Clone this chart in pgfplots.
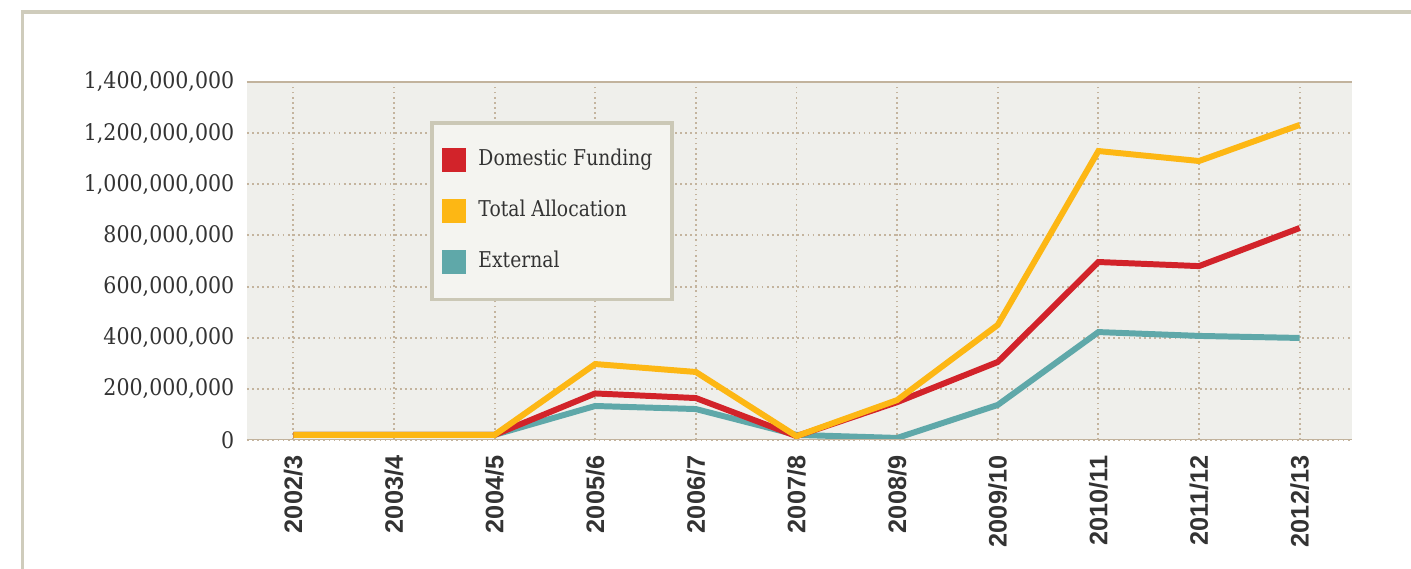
\documentclass[border=0pt]{standalone}
\usepackage{fontspec}
\setmainfont{DejaVu Serif}
\newfontfamily\tickfont{DejaVu Serif}[FakeStretch=0.9]
\newfontfamily\legfont{DejaVu Serif}[FakeStretch=0.86]
\newfontfamily\xsans{Liberation Sans}
\usepackage{pgfplots}
\pgfplotsset{compat=1.18}
\definecolor{cDom}{HTML}{D2232A}
\definecolor{cTot}{HTML}{FDB714}
\definecolor{cExt}{HTML}{5FA8A9}
\definecolor{bgc}{HTML}{EFEFEB}
\definecolor{gridc}{HTML}{C4B49E}
\definecolor{axc}{HTML}{C2B39D}
\definecolor{legbg}{HTML}{F4F4F0}
\definecolor{legbd}{HTML}{CBC8B6}
\definecolor{framec}{HTML}{CFCCBC}
\definecolor{txt}{HTML}{333333}
\begin{document}
\begin{tikzpicture}
\path[use as bounding box] (0,0) rectangle (14.11,5.69);
\draw[framec, line width=0.9pt] (0.225,0) -- (0.225,5.57) -- (14.2,5.57);
\begin{axis}[
  at={(2.47cm,1.29cm)}, anchor=south west,
  scale only axis, width=11.05cm, height=3.58cm,
  xmin=-0.46, xmax=10.52, ymin=0, ymax=1400000000,
  scaled y ticks=false,
  axis background/.style={fill=bgc},
  axis line style={draw=none},
  major tick length=0pt,
  xtick={0,...,10},
  xticklabels={2002/3,2003/4,2004/5,2005/6,2006/7,2007/8,2008/9,2009/10,2010/11,2011/12,2012/13},
  x tick label style={rotate=90, anchor=east, font=\xsans\bfseries\fontsize{7.2}{8}\selectfont, text=txt, inner sep=0pt},
  xticklabel shift=0.15cm,
  ytick={0,200000000,400000000,600000000,800000000,1000000000,1200000000,1400000000},
  yticklabels={0,{200,000,000},{400,000,000},{600,000,000},{800,000,000},{1,000,000,000},{1,200,000,000},{1,400,000,000}},
  y tick label style={font=\tickfont\fontsize{6.5}{7}\selectfont, text=txt, anchor=east, inner sep=0pt},
  yticklabel shift=0.12cm,
  grid=major,
  major grid style={gridc, line width=0.55pt, dash pattern=on 0.5pt off 0.95pt},
  legend style={at={(0.1656,0.891)}, anchor=north west, fill=legbg, draw=legbd, line width=1.1pt,
    font=\legfont\fontsize{6.2}{7}\selectfont, text=txt, inner xsep=3pt, inner ysep=5.5pt, row sep=4.3pt},
  legend cell align=left,
  legend image code/.code={\fill (0cm,-0.12cm) rectangle (0.24cm,0.12cm); \path (0.29cm,0cm);},
]
\addlegendimage{fill=cDom, draw=none}
\addlegendentry{Domestic Funding\hspace*{0.6pt}}
\addlegendimage{fill=cTot, draw=none}
\addlegendentry{Total Allocation}
\addlegendimage{fill=cExt, draw=none}
\addlegendentry{External}
\addplot[forget plot, cExt, line width=1.7pt] coordinates {
(0,20000000) (1,20000000) (2,20000000) (3,133000000) (4,121000000) (5,20000000) (6,8000000) (7,137000000) (8,422000000) (9,407000000) (10,399000000)};
\addplot[forget plot, cDom, line width=1.7pt] coordinates {
(0,20000000) (1,20000000) (2,20000000) (3,182000000) (4,164000000) (5,15000000) (6,148000000) (7,305000000) (8,696000000) (9,680000000) (10,829000000)};
\addplot[forget plot, cTot, line width=1.7pt] coordinates {
(0,20000000) (1,20000000) (2,20000000) (3,297000000) (4,266000000) (5,15000000) (6,156000000) (7,450000000) (8,1130000000) (9,1091000000) (10,1232000000)};
\draw[axc, line width=0.8pt] (rel axis cs:0,0) -- (rel axis cs:1,0);
\draw[axc, line width=0.8pt] (rel axis cs:0,1) -- (rel axis cs:1,1);
\end{axis}
\end{tikzpicture}
\end{document}
